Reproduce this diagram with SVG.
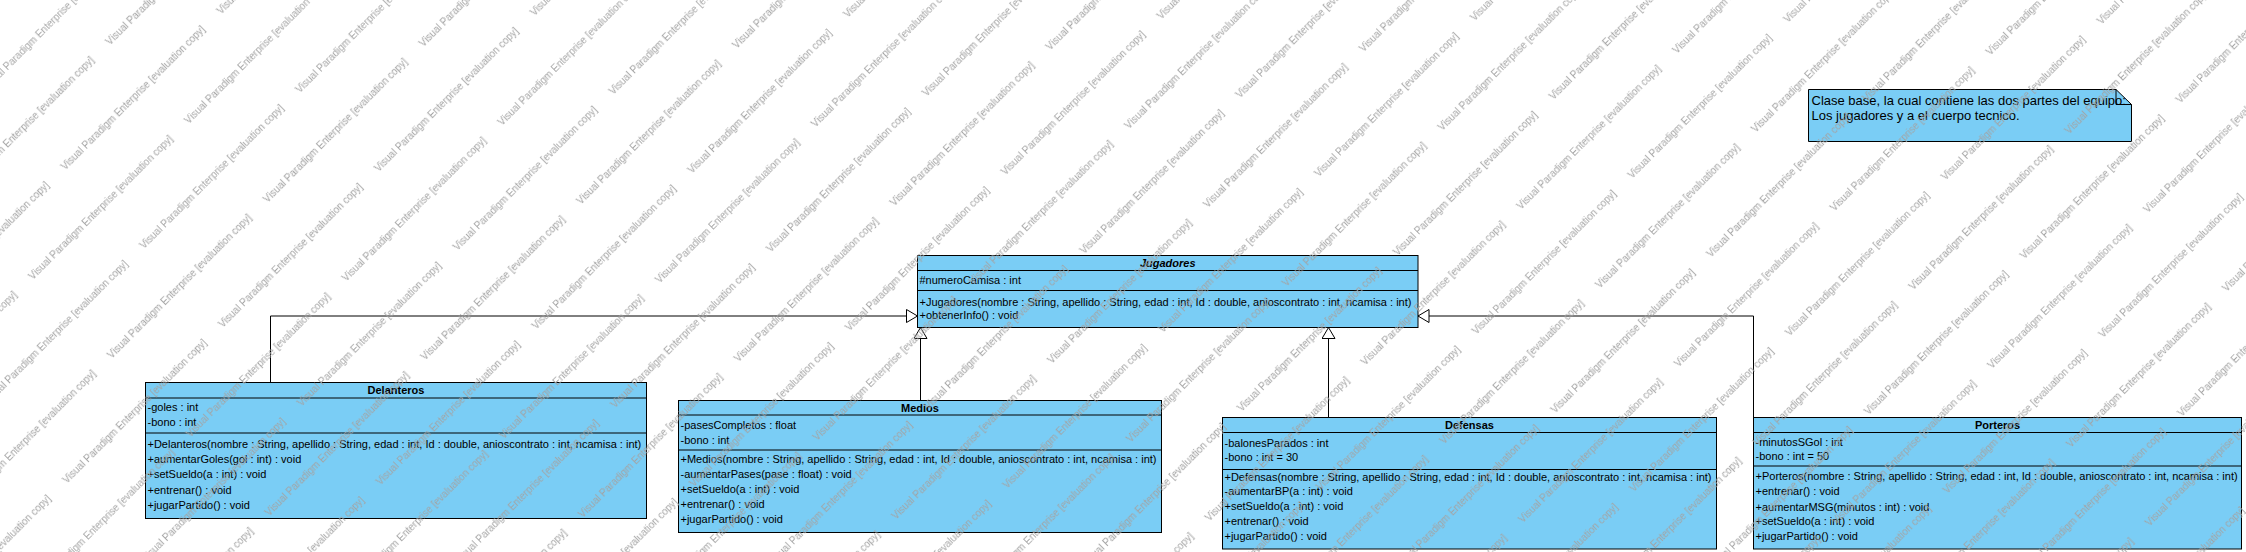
<svg xmlns="http://www.w3.org/2000/svg" width="2246" height="552" viewBox="0 0 2246 552">
<style>
.box{fill:#7acdf5;stroke:#000;stroke-width:1}
.sep{stroke:#000;stroke-width:1;fill:none}
.t{font-family:"Liberation Sans",Arial,sans-serif;font-size:11px;fill:#000}
.title{font-family:"Liberation Sans",Arial,sans-serif;font-size:11px;font-weight:bold;fill:#000;text-anchor:middle}
.note{font-family:"Liberation Sans",Arial,sans-serif;font-size:13px;fill:#000}
.conn{fill:none;stroke:#000;stroke-width:1;marker-end:url(#gen)}
.wm{font-family:"Liberation Sans",Arial,sans-serif;font-size:10px;fill:#a3a3a3}
</style>
<defs>
<marker id="gen" viewBox="0 0 12 14" refX="11.5" refY="7" markerWidth="12" markerHeight="14" markerUnits="userSpaceOnUse" orient="auto">
<path d="M0.5,0.5 L11.5,7 L0.5,13.5 Z" fill="#fff" stroke="#000" stroke-width="1"/>
</marker>
<pattern id="wmp" patternUnits="userSpaceOnUse" x="0" y="24.5" width="220.4" height="111.4" patternTransform="rotate(-45)">
<text class="wm" x="45.5" y="85.7">Visual Paradigm Enterprise [evaluation copy]</text>
<text class="wm" x="-174.9" y="85.7">Visual Paradigm Enterprise [evaluation copy]</text>
<text class="wm" x="145.9" y="30.8">Visual Paradigm Enterprise [evaluation copy]</text>
<text class="wm" x="-74.5" y="30.8">Visual Paradigm Enterprise [evaluation copy]</text>
</pattern>
</defs>
<rect width="2246" height="552" fill="#fff"/>

<g id="connectors">
<path class="conn" d="M270.5,382.5 V316 H917.5"/>
<path class="conn" d="M920.5,400.5 V327.5"/>
<path class="conn" d="M1328.5,417.5 V327.5"/>
<path class="conn" d="M1753.5,417.5 V316 H1418"/>
</g>

<g id="Jugadores">
<rect class="box" x="917.5" y="255.5" width="500.5" height="72"/>
<path class="sep" d="M917.5,270.5 H1418 M917.5,290.5 H1418"/>
<text class="title" x="1167.7" y="267" font-style="italic">Jugadores</text>
<text class="t" x="919.5" y="284">#numeroCamisa : int</text>
<text class="t" x="919.5" y="305.7">+Jugadores(nombre : String, apellido : String, edad : int, Id : double, anioscontrato : int, ncamisa : int)</text>
<text class="t" x="919.5" y="319">+obtenerInfo() : void</text>
</g>

<g id="Delanteros">
<rect class="box" x="145.5" y="382.5" width="501" height="136"/>
<path class="sep" d="M145.5,398 H646.5 M145.5,433 H646.5"/>
<text class="title" x="396" y="394">Delanteros</text>
<text class="t" x="147.5" y="411.3">-goles : int</text>
<text class="t" x="147.5" y="426.3">-bono : int</text>
<text class="t" x="147.5" y="448">+Delanteros(nombre : String, apellido : String, edad : int, Id : double, anioscontrato : int, ncamisa : int)</text>
<text class="t" x="147.5" y="462.8">+aumentarGoles(gol : int) : void</text>
<text class="t" x="147.5" y="478.2">+setSueldo(a : int) : void</text>
<text class="t" x="147.5" y="493.7">+entrenar() : void</text>
<text class="t" x="147.5" y="509.3">+jugarPartido() : void</text>
</g>

<g id="Medios">
<rect class="box" x="678.5" y="400.5" width="483" height="132"/>
<path class="sep" d="M678.5,415 H1161.5 M678.5,450 H1161.5"/>
<text class="title" x="920" y="411.9">Medios</text>
<text class="t" x="680.5" y="429">-pasesCompletos : float</text>
<text class="t" x="680.5" y="444">-bono : int</text>
<text class="t" x="680.5" y="463">+Medios(nombre : String, apellido : String, edad : int, Id : double, anioscontrato : int, ncamisa : int)</text>
<text class="t" x="680.5" y="478.3">-aumentarPases(pase : float) : void</text>
<text class="t" x="680.5" y="493">+setSueldo(a : int) : void</text>
<text class="t" x="680.5" y="508.3">+entrenar() : void</text>
<text class="t" x="680.5" y="523">+jugarPartido() : void</text>
</g>

<g id="Defensas">
<rect class="box" x="1222.5" y="417.5" width="494" height="131.5"/>
<path class="sep" d="M1222.5,432.5 H1716.5 M1222.5,469.5 H1716.5"/>
<text class="title" x="1469.5" y="428.8">Defensas</text>
<text class="t" x="1224.5" y="446.7">-balonesParados : int</text>
<text class="t" x="1224.5" y="461.3">-bono : int = 30</text>
<text class="t" x="1224.5" y="480.7">+Defensas(nombre : String, apellido : String, edad : int, Id : double, anioscontrato : int, ncamisa : int)</text>
<text class="t" x="1224.5" y="495">-aumentarBP(a : int) : void</text>
<text class="t" x="1224.5" y="510">+setSueldo(a : int) : void</text>
<text class="t" x="1224.5" y="524.7">+entrenar() : void</text>
<text class="t" x="1224.5" y="540">+jugarPartido() : void</text>
</g>

<g id="Porteros">
<rect class="box" x="1753.5" y="417.5" width="488" height="131.5"/>
<path class="sep" d="M1753.5,432.5 H2241.5 M1753.5,466 H2241.5"/>
<text class="title" x="1997.5" y="428.8">Porteros</text>
<text class="t" x="1755.5" y="445.7">-minutosSGol : int</text>
<text class="t" x="1755.5" y="459.7">-bono : int = 50</text>
<text class="t" x="1755.5" y="480">+Porteros(nombre : String, apellido : String, edad : int, Id : double, anioscontrato : int, ncamisa : int)</text>
<text class="t" x="1755.5" y="494.7">+entrenar() : void</text>
<text class="t" x="1755.5" y="510.7">+aumentarMSG(minutos : int) : void</text>
<text class="t" x="1755.5" y="525">+setSueldo(a : int) : void</text>
<text class="t" x="1755.5" y="540">+jugarPartido() : void</text>
</g>

<g id="note">
<polygon class="box" points="1808.5,89.5 2116,89.5 2131.5,104.5 2131.5,141.5 1808.5,141.5"/>
<polyline class="sep" points="2116,89.5 2116,104.5 2131.5,104.5"/>
<text class="note" x="1811.5" y="104.5">Clase base, la cual contiene las dos partes del equipo:</text>
<text class="note" x="1811.5" y="119.5">Los jugadores y a el cuerpo tecnico.</text>
</g>

<rect id="watermark" width="2246" height="552" fill="url(#wmp)" pointer-events="none"/>
</svg>
